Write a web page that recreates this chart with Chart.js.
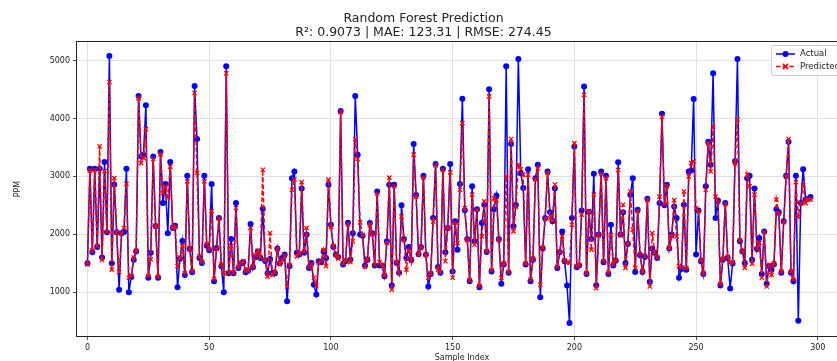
<!DOCTYPE html>
<html><head><meta charset="utf-8">
<script src="https://cdn.jsdelivr.net/npm/chart.js@4.4.0/dist/chart.umd.min.js"></script>
<style>html,body{margin:0;padding:0;overflow:hidden;background:#fff;width:837px;height:361px}canvas{display:block}</style>
</head><body>
<canvas id="c" width="924" height="361" style="width:924px;height:361px"></canvas>
<script>
const titleLines = ['Random Forest Prediction', 'R\u00b2: 0.9073 | MAE: 123.31 | RMSE: 274.45'];
const seriesNames = ['Actual', 'Predicted'];
const xTitle = 'Sample Index';
const yTitle = 'PPM';
const xTicks = [0, 50, 100, 150, 200, 250, 300];
const yTicks = [1000, 2000, 3000, 4000, 5000];

const actual = [
1500,3130,1690,3130,1780,3130,1600,3250,2035,5080,
1500,2860,2035,1045,2020,2040,3130,1000,1265,1560,
1705,4390,3345,3370,4230,1250,1680,3345,2140,1250,
3420,2540,2870,2020,3250,2110,2150,1085,1580,1885,
1300,3010,1745,1345,4560,3645,1590,1505,3010,1805,
1725,2870,1190,1765,2280,1450,1000,4900,1330,1920,
1330,2540,1420,1495,1520,1345,1370,2180,1430,1610,
1705,1590,2440,1540,1330,1575,1330,1330,1755,1500,
1590,1650,845,1450,2970,3085,1680,1650,2790,1680,
1995,1420,1505,1130,960,1535,1520,1705,1590,2855,
2165,1780,1650,1610,4130,1480,1535,2200,1560,2020,
4390,3375,1995,1975,1460,1560,2195,2020,1460,2740,
1460,1460,1275,1880,2855,1115,2855,1505,1335,2500,
1920,1590,1780,1560,3560,2680,1660,1780,3010,1650,
1100,1315,2280,3215,1435,1335,3130,1690,2110,3215,
1360,2225,1735,2870,4340,2415,1920,1190,2830,1880,
2435,1085,2195,2510,1695,4505,1360,2435,2670,1920,
1145,1480,4900,1335,3560,2140,2505,5025,3055,2800,
1480,3125,1190,1560,2970,3200,915,1755,2280,3085,
2380,2225,2790,1420,1690,2050,1535,1115,470,2280,
3515,1430,1460,2410,4550,1315,2385,1920,3045,1120,
1995,3085,1520,3010,1315,2165,1460,1545,3245,1995,
2380,1505,1835,2685,2970,1350,2425,1640,1350,1610,
2615,1180,1755,1680,1590,2540,4080,2500,2855,1755,
1995,2480,2280,1250,1400,2510,1390,3085,3100,4335,
1650,2410,1535,1315,2830,3600,3200,4780,2280,2585,
1115,1560,2540,1590,1065,1495,3260,5025,1880,1705,
1505,2970,3010,1560,2790,1745,1935,1315,2050,1145,
1450,1390,1480,2435,2380,1335,2225,3010,3600,1335,
1190,3010,510,2540,3125,2600,2615,2645
];

const predicted = [
1480,3100,1720,3110,1800,3520,1560,3090,2040,4630,
1390,2970,2030,1350,2010,2110,2870,1250,1290,1600,
1720,4350,3230,3320,3815,1280,1565,3300,2150,1270,
3380,2710,2830,2650,3170,2130,2120,1450,1600,1795,
1330,2915,1760,1370,4440,3060,1620,1530,2915,1830,
1750,2400,1230,1750,2270,1480,1330,4780,1340,1800,
1340,2455,1440,1510,1540,1370,1390,2110,1450,1640,
1720,1610,3115,1560,1270,2020,1300,1350,1740,1480,
1560,1630,1100,1470,2770,2950,1620,1670,2900,1710,
2110,1440,1480,1250,1120,1510,1540,1730,1450,2945,
2130,1800,1640,1580,4110,1500,1550,2170,1520,1880,
3645,3300,2205,1990,1440,1580,2160,2000,1470,2700,
1520,1470,1300,1850,2980,1045,2830,1520,1340,2310,
1900,1390,1720,1540,3375,2650,1650,1760,2980,1640,
1250,1330,2225,3190,1390,1350,3110,1535,2100,3070,
1250,2200,1850,2770,3920,2455,1900,1210,2685,1820,
2420,1110,1965,2570,1710,4380,1380,2620,2590,1900,
1250,1500,3000,1350,3645,2050,2480,3200,3125,3030,
1500,3030,1220,1580,2950,3140,1130,1770,2260,3060,
2280,2240,2860,1440,1700,1965,1550,1510,1510,2165,
3575,1450,1470,2340,4410,1330,2400,1735,2685,1070,
1980,3050,1540,2970,1340,1990,1480,1560,3110,1980,
2510,1420,1850,2740,2080,1420,2400,1660,1370,1630,
2590,1100,2020,1690,1610,2650,4030,2520,2830,1770,
1965,2590,1965,1450,1430,2740,1420,3000,3230,3260,
2450,2400,1560,1340,2770,3570,3085,3860,2650,2560,
1140,1580,2520,1610,1510,1520,3230,3980,1900,1720,
1420,3030,2830,1490,2685,1760,1850,1250,2040,1100,
1470,1300,1500,2600,2360,1360,2210,2990,3645,1360,
1220,2900,2310,2540,2845,2540,2600,2600
];

const FONT = "'DejaVu Sans', sans-serif";
const BLUE = '#0000ff';
const RED = '#ff0000';

const framePlugin = {
  id: 'frameAndLegend',
  afterDatasetsDraw(chart) {
    const ctx = chart.ctx, a = chart.chartArea;
    ctx.save();
    ctx.strokeStyle = '#222';
    ctx.lineWidth = 1;
    ctx.strokeRect(Math.round(a.left) - 0.5, Math.round(a.top) - 0.5, Math.round(a.right - a.left) + 1, Math.round(a.bottom - a.top) + 1);
    const bx = 771, by = 45, bw = 95, bh = 30;
    ctx.fillStyle = 'rgba(255,255,255,0.85)';
    ctx.strokeStyle = '#cccccc';
    ctx.lineWidth = 1;
    ctx.beginPath();
    ctx.roundRect(bx + 0.5, by + 0.5, bw, bh, 2);
    ctx.fill(); ctx.stroke();
    const rows = [
      {y: by + 9, color: BLUE, dash: [], marker: 'circle', text: seriesNames[0]},
      {y: by + 21.5, color: RED, dash: [4.5, 2.2], marker: 'x', text: seriesNames[1]}
    ];
    rows.forEach(r => {
      ctx.strokeStyle = r.color;
      ctx.lineWidth = 1.5;
      ctx.setLineDash(r.dash);
      ctx.beginPath(); ctx.moveTo(bx + 5, r.y); ctx.lineTo(bx + 24, r.y); ctx.stroke();
      ctx.setLineDash([]);
      const mx = bx + 14.5;
      if (r.marker === 'circle') {
        ctx.fillStyle = r.color;
        ctx.beginPath(); ctx.arc(mx, r.y, 3, 0, Math.PI * 2); ctx.fill();
      } else {
        ctx.beginPath();
        ctx.moveTo(mx - 2.6, r.y - 2.6); ctx.lineTo(mx + 2.6, r.y + 2.6);
        ctx.moveTo(mx - 2.6, r.y + 2.6); ctx.lineTo(mx + 2.6, r.y - 2.6);
        ctx.stroke();
      }
      ctx.fillStyle = '#222';
      ctx.font = '8.5px ' + FONT;
      ctx.textBaseline = 'middle';
      ctx.textAlign = 'left';
      ctx.fillText(r.text, bx + 29, r.y);
    });
    ctx.restore();
  }
};

new Chart(document.getElementById('c'), {
  type: 'line',
  data: {
    datasets: [
      {
        label: seriesNames[0],
        data: actual.map((v, i) => ({x: i, y: v})),
        borderColor: BLUE,
        backgroundColor: BLUE,
        borderWidth: 1.5,
        pointStyle: 'circle',
        pointRadius: 3,
        pointBorderWidth: 0,
        pointBackgroundColor: BLUE,
        tension: 0,
        order: 2
      },
      {
        label: seriesNames[1],
        data: predicted.map((v, i) => ({x: i, y: v})),
        borderColor: RED,
        backgroundColor: RED,
        borderWidth: 1.5,
        borderDash: [4.5, 2.2],
        pointStyle: 'crossRot',
        pointRadius: 3,
        pointBorderWidth: 1.3,
        pointBorderColor: RED,
        tension: 0,
        order: 1
      }
    ]
  },
  options: {
    responsive: false,
    animation: false,
    devicePixelRatio: 1,
    layout: {padding: {left: 0, right: 77, top: 0, bottom: 0}},
    plugins: {
      legend: {display: false},
      tooltip: {enabled: false},
      title: {
        display: true,
        text: titleLines,
        color: '#222',
        font: {family: FONT, size: 12.5, weight: 'normal', lineHeight: 1.1},
        padding: {top: 12, bottom: 2.5}
      }
    },
    scales: {
      x: {
        type: 'linear',
        min: -4.3,
        max: 312,
        afterBuildTicks: s => { s.ticks = xTicks.map(v => ({value: v})); },
        afterFit: s => { s.height = 25; },
        ticks: {autoSkip: false, maxRotation: 0, color: '#222', font: {family: FONT, size: 8}, padding: 3, callback: v => String(v)},
        grid: {color: '#d9d9d9', lineWidth: 0.8, tickColor: '#222', tickLength: 4, drawTicks: true},
        border: {display: false},
        title: {display: true, text: xTitle, color: '#222', font: {family: FONT, size: 8}, padding: {top: 0, bottom: -2}}
      },
      y: {
        type: 'linear',
        min: 245,
        max: 5320,
        afterBuildTicks: s => { s.ticks = yTicks.map(v => ({value: v})); },
        afterFit: s => { s.width = 77; },
        ticks: {autoSkip: false, color: '#222', font: {family: FONT, size: 8}, padding: 3, callback: v => String(v)},
        grid: {color: '#d9d9d9', lineWidth: 0.8, tickColor: '#222', tickLength: 4, drawTicks: true},
        border: {display: false},
        title: {display: true, text: yTitle, color: '#222', font: {family: FONT, size: 8}, padding: {top: 13, bottom: 0}}
      }
    }
  },
  plugins: [framePlugin]
});
</script>
</body></html>
